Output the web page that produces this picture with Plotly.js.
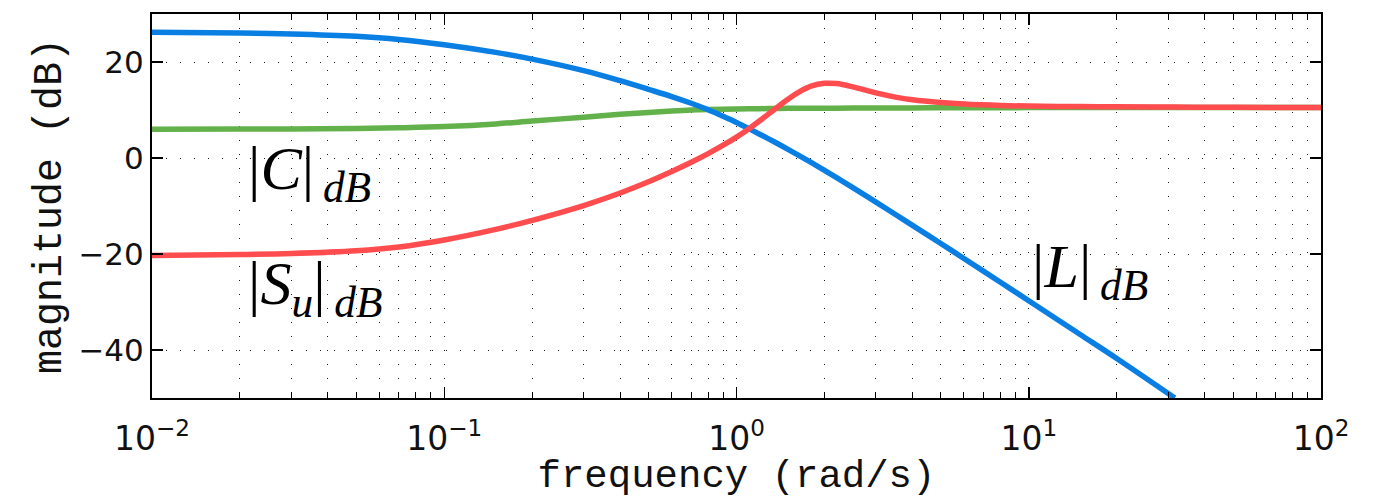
<!DOCTYPE html>
<html><head><meta charset="utf-8">
<script src="https://cdn.plot.ly/plotly-3.0.1.min.js"></script>
<style>html,body{margin:0;padding:0;background:#fff;}</style>
</head><body>
<div id="chart" style="width:1383px;height:499px"></div>
<script>
// frequency grid (rad/s)
const freq = [0.01,0.02,0.03,0.05,0.07,0.1,0.15,0.2,0.3,0.4,0.5,0.6,0.7,0.8,0.9,1.0,1.1,1.2,1.34,1.5,1.65,1.8,2.0,2.2,2.5,3.0,3.5,4.0,5.0,6.0,8.0,10,15,20,31.6,50,100];
// |L| in dB
const magL = [26.2,26.05,25.85,25.35,24.7,23.6,22.0,20.6,18.2,16.1,14.3,12.8,11.4,10.04,8.68,7.4,6.14,4.96,3.43,1.81,0.4,-0.92,-2.57,-4.1,-6.18,-9.19,-11.77,-14.03,-17.81,-20.94,-25.88,-29.73,-36.77,-41.77,-50.0,null,null];
// |C| in dB
const magC = [6.0,6.02,6.05,6.15,6.3,6.55,7.1,7.7,8.5,9.1,9.5,9.8,10.0,10.1,10.15,10.2,10.25,10.28,10.31,10.34,10.36,10.37,10.38,10.39,10.4,10.42,10.43,10.44,10.46,10.47,10.48,10.5,10.5,10.5,10.5,10.5,10.5];
// |Su| in dB
const magSu = [-20.29,-20.11,-19.9,-19.34,-18.54,-17.07,-14.87,-12.99,-9.91,-7.29,-4.96,-2.82,-0.88,0.92,2.66,4.35,6.05,7.75,10.0,12.25,13.86,14.96,15.55,15.5,14.83,13.56,12.69,12.14,11.56,11.24,10.94,10.82,10.71,10.66,10.6,10.55,10.5];

// tick labels
const xExponents = [-2,-1,0,1,2];
const xTickVals = xExponents.map(e => Math.pow(10, e));
const xTickText = xExponents.map(e => '10<sup>' + (e < 0 ? '\u2212' + (-e) : e) + '</sup>');
const minorDigits = [2,3,4,5,6,7,8,9];
const xMinorVals = [];
xExponents.slice(0, -1).forEach(e => minorDigits.forEach(d => xMinorVals.push(d * Math.pow(10, e))));
const yTickVals = [-40,-20,0,20];
const yTickText = ['\u221240','\u221220','0','20'];

const gridDash = '1px,13px';
const gridColor = '#1a1a1a';
const lineStyle = (c) => ({color: c, width: 5.5, shape: 'spline', smoothing: 1.0});

const traces = [
  {x: freq, y: magC, mode: 'lines', line: lineStyle('#63b14b'), name: '|C|', hoverinfo: 'skip'},
  {x: freq, y: magL, mode: 'lines', line: lineStyle('#0a7fe3'), name: '|L|', hoverinfo: 'skip'},
  {x: freq, y: magSu, mode: 'lines', line: lineStyle('#ff4d4f'), name: '|Su|', hoverinfo: 'skip'}
];

const axisCommon = {
  showline: true, linecolor: '#000', linewidth: 2, mirror: 'allticks',
  ticks: 'inside', ticklen: 11, tickwidth: 1.5, tickcolor: '#000',
  showgrid: true, gridcolor: gridColor, gridwidth: 1, griddash: gridDash,
  zeroline: false, automargin: false
};

const layout = {
  width: 1383, height: 499,
  margin: {l: 152, r: 62, t: 14, b: 101},
  paper_bgcolor: '#fff', plot_bgcolor: '#fff',
  showlegend: false,
  xaxis: Object.assign({}, axisCommon, {
    type: 'log', range: [-2, 2],
    tickmode: 'array', tickvals: xTickVals, ticktext: xTickText,
    tickfont: {family: 'DejaVu Sans', size: 33, color: '#111'},
    ticklabelstandoff: 10,
    minor: {tickmode: 'array', tickvals: xMinorVals, ticks: 'inside', ticklen: 6, tickwidth: 1, tickcolor: '#000',
            showgrid: true, gridcolor: gridColor, gridwidth: 1, griddash: gridDash},
    title: {text: 'frequency (rad/s)', font: {family: 'Liberation Mono', size: 39, color: '#111'}, standoff: 12}
  }),
  yaxis: Object.assign({}, axisCommon, {
    range: [-50, 30],
    tickmode: 'array', tickvals: yTickVals, ticktext: yTickText,
    tickfont: {family: 'DejaVu Sans', size: 31, color: '#111'},
    title: {text: 'magnitude (dB)', font: {family: 'Liberation Mono', size: 40, color: '#111'}, standoff: 4}
  }),
  annotations: [
    {x: -1.68, y: -3, xref: 'x', yref: 'y', xanchor: 'left', yanchor: 'middle', showarrow: false,
     text: '|<i>C</i>|<sub>\u2009<i>dB</i></sub>', font: {family: 'Liberation Serif', size: 62, color: '#000'}},
    {x: -1.68, y: -27, xref: 'x', yref: 'y', xanchor: 'left', yanchor: 'middle', showarrow: false,
     text: '|<i>S<sub>u</sub></i>|<sub>\u2009<i>dB</i></sub>', font: {family: 'Liberation Serif', size: 62, color: '#000'}},
    {x: 1.005, y: -23.5, xref: 'x', yref: 'y', xanchor: 'left', yanchor: 'middle', showarrow: false,
     text: '|<i>L</i>|<sub>\u2009<i>dB</i></sub>', font: {family: 'Liberation Serif', size: 62, color: '#000'}}
  ]
};

Plotly.newPlot('chart', traces, layout, {staticPlot: true, displayModeBar: false});
</script>
</body></html>
